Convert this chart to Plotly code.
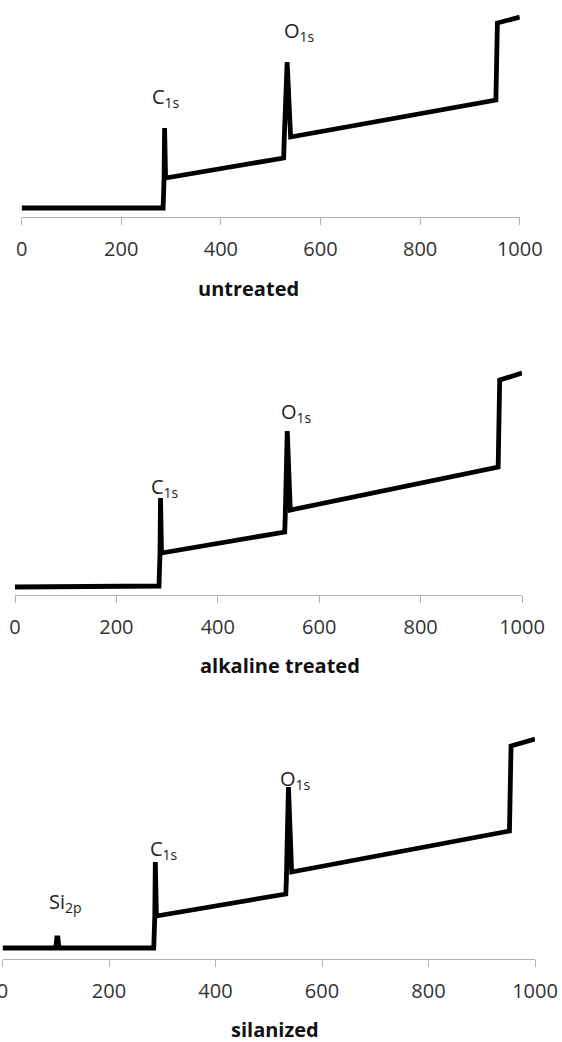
import plotly.graph_objects as go

# Binding energy (eV) and intensity (a.u.)
energy_untreated = [0, 284, 286, 287, 289, 526, 527, 533, 540, 952, 955, 1000]
intensity_untreated = [9, 9, 39, 89, 39, 59, 76, 155, 80, 117, 194, 200]

energy_alkaline = [0, 284, 286, 287, 289, 532, 533, 537, 543, 953, 956, 1000]
intensity_alkaline = [8, 9, 42, 97, 42, 63, 78, 164, 85, 128, 215, 222]

energy_silanized = [0, 100, 102, 104, 106, 284, 286, 287, 289, 532, 533, 537, 543, 952, 955, 1000]
intensity_silanized = [11, 11, 21, 21, 11, 11, 43, 97, 43, 65, 78, 172, 87, 128, 213, 220]

tick_values = [0, 200, 400, 600, 800, 1000]
panel_titles = ["untreated", "alkaline treated", "silanized"]

peak_labels = [
    [("C<sub>1s</sub>", 289, 120), ("O<sub>1s</sub>", 558, 186)],
    [("C<sub>1s</sub>", 296, 108), ("O<sub>1s</sub>", 555, 183)],
    [("Si<sub>2p</sub>", 119, 57), ("C<sub>1s</sub>", 304, 110), ("O<sub>1s</sub>", 551, 180)],
]

W, H = 562, 1042
FONT = "Open Sans"

# layout in pixels: (x0, x1, y_axis, y_top)
panels = [
    (21.6, 519.8, 217, 10),
    (15, 522, 595, 365),
    (2.5, 535, 959, 729),
]
title_pos = [(248, 288), (280, 665), (275, 1029)]

series = [
    (energy_untreated, intensity_untreated),
    (energy_alkaline, intensity_alkaline),
    (energy_silanized, intensity_silanized),
]

fig = go.Figure()
annotations = []
for i, ((ex, iy), (x0, x1, ya, yt)) in enumerate(zip(series, panels)):
    n = "" if i == 0 else str(i + 1)
    fig.add_trace(go.Scatter(
        x=ex, y=iy, mode="lines",
        line=dict(color="black", width=4.8),
        xaxis="x" + n, yaxis="y" + n, showlegend=False, hoverinfo="skip",
    ))
    fig.layout["xaxis" + n] = dict(
        domain=[x0 / W, x1 / W], range=[0, 1000], anchor="y" + n,
        showline=True, linecolor="#b3b3b3", linewidth=1.3,
        ticks="outside", ticklen=7, tickcolor="#b3b3b3", tickwidth=1.3,
        tickvals=tick_values, showgrid=False, zeroline=False,
        tickfont=dict(family=FONT, size=20, color="#333333"),
        ticklabelstandoff=7, automargin=False, ticklabeloverflow="allow",
    )
    fig.layout["yaxis" + n] = dict(
        domain=[1 - ya / H, 1 - yt / H], range=[0, ya - yt], anchor="x" + n,
        visible=False, showgrid=False, zeroline=False, automargin=False,
    )
    tx, ty = title_pos[i]
    annotations.append(dict(
        text="<b>" + panel_titles[i] + "</b>", xref="paper", yref="paper",
        x=tx / W, y=1 - ty / H, xanchor="center", yanchor="middle",
        showarrow=False, font=dict(family=FONT, size=20, color="#111111"),
    ))
    for txt, lx, ly in peak_labels[i]:
        annotations.append(dict(
            text=txt, xref="x" + n, yref="y" + n, x=lx, y=ly,
            xanchor="center", yanchor="middle", showarrow=False,
            font=dict(family=FONT, size=20, color="#222222"),
        ))

fig.update_layout(
    width=W, height=H, margin=dict(l=0, r=0, t=0, b=0),
    paper_bgcolor="white", plot_bgcolor="white",
    annotations=annotations,
)
fig.write_html("out.html")
